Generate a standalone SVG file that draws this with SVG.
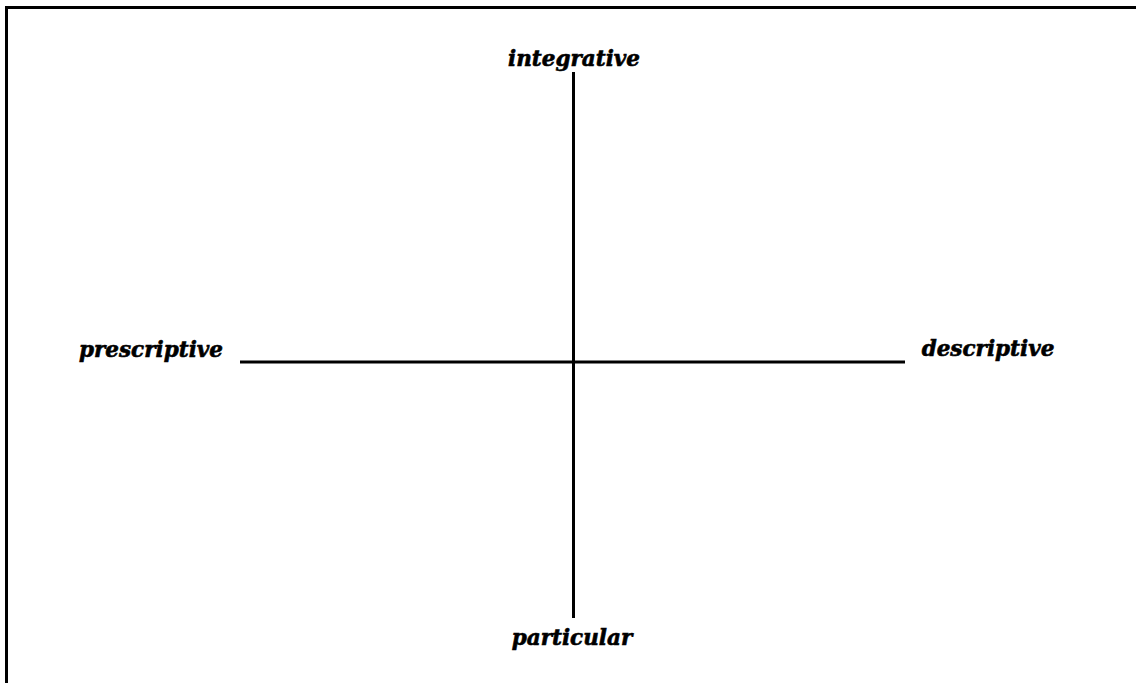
<svg xmlns="http://www.w3.org/2000/svg" width="1136" height="683" viewBox="0 0 1136 683">
<style>
.frame{stroke:#000;stroke-width:3;fill:none}
.axis{stroke:#000;stroke-width:3;fill:none}
.lbl{font-family:"DejaVu Serif","Liberation Serif",serif;font-weight:bold;font-style:italic;font-size:21.5px;fill:#000;stroke:#000;stroke-width:0.6;text-anchor:middle}
</style>
<rect width="1136" height="683" fill="#fff"/>
<path class="frame" d="M6.5 683 V7.5 H1136"/>
<g id="connectors">
<line class="axis" x1="573.5" y1="72" x2="573.5" y2="618"/>
<line class="axis" x1="240" y1="362" x2="905" y2="362"/>
</g>
<g id="integrative"><text class="lbl" x="574" y="66">integrative</text></g>
<g id="particular"><text class="lbl" x="572" y="645">particular</text></g>
<g id="prescriptive"><text class="lbl" x="151" y="357">prescriptive</text></g>
<g id="descriptive"><text class="lbl" x="988" y="356">descriptive</text></g>
</svg>
